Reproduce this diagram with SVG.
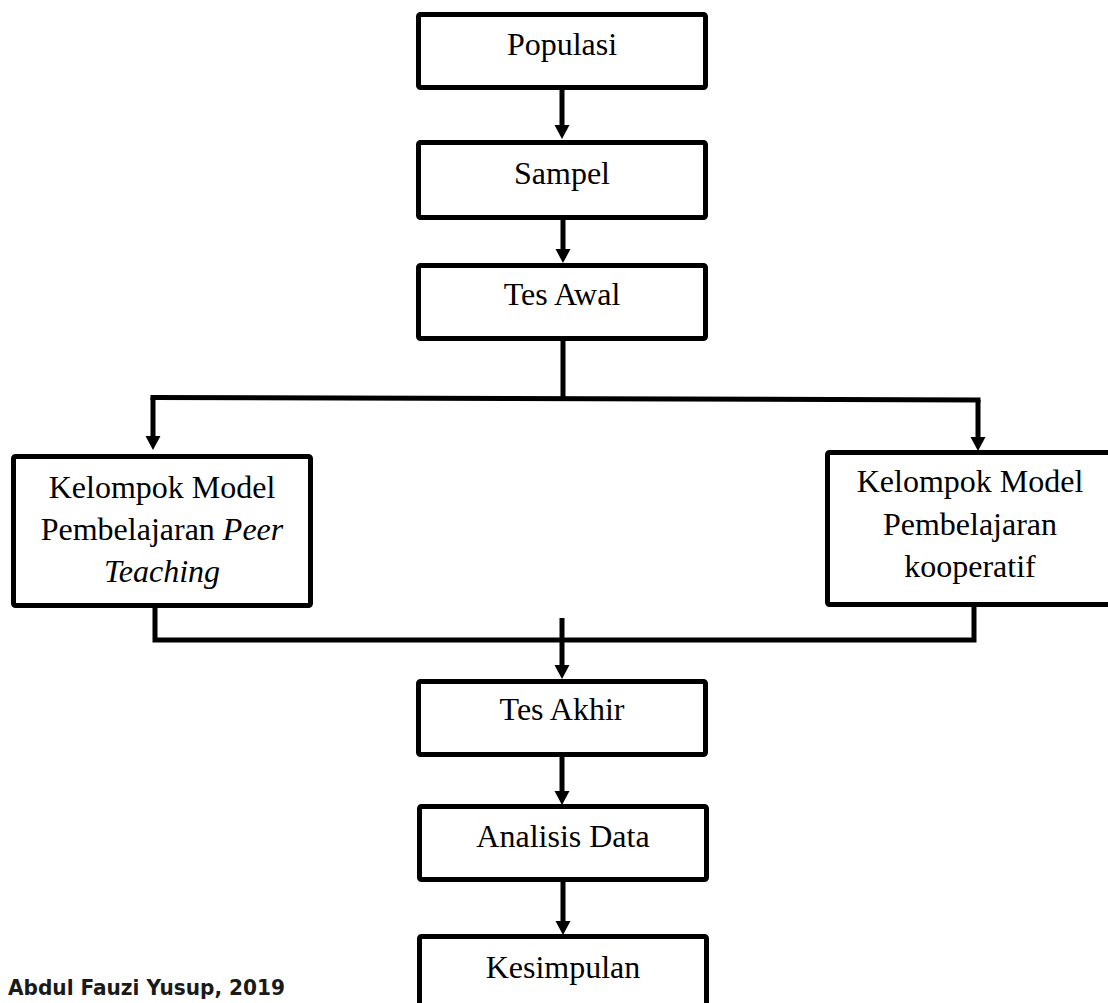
<svg xmlns="http://www.w3.org/2000/svg" width="1108" height="1003" viewBox="0 0 1108 1003">
<defs>
<marker id="arr" markerUnits="userSpaceOnUse" markerWidth="16" markerHeight="16" refX="4" refY="7.5" orient="auto">
<path d="M0,0 L14,7.5 L0,15 z" fill="#000"/>
</marker>
<style>
.box{fill:#fff;stroke:#000;stroke-width:5;}
.lbl{font-family:"Liberation Serif","Times New Roman",serif;font-size:32px;fill:#000;text-anchor:middle;}
.ln{fill:none;stroke:#000;stroke-width:5;}
.foot{font-family:"DejaVu Sans Condensed","DejaVu Sans",Verdana,sans-serif;font-stretch:condensed;font-weight:bold;font-size:21.5px;fill:#1a1a1a;}
</style>
</defs>
<rect width="1108" height="1003" fill="#fff"/>
<g id="connectors">
<path class="ln" d="M562,90 L562,129" marker-end="url(#arr)"/>
<path class="ln" d="M563,220 L563,253" marker-end="url(#arr)"/>
<path class="ln" d="M563,341 L563,398"/>
<path class="ln" d="M150.5,397.5 L980.5,400"/>
<path class="ln" d="M153,397.5 L153,440" marker-end="url(#arr)"/>
<path class="ln" d="M978,400 L978,441" marker-end="url(#arr)"/>
<path class="ln" d="M155,608 L155,640 L974,640 L974,605"/>
<path class="ln" d="M562,618 L562,669" marker-end="url(#arr)"/>
<path class="ln" d="M562,757 L562,795" marker-end="url(#arr)"/>
<path class="ln" d="M563,882 L563,925" marker-end="url(#arr)"/>
</g>
<g id="n-populasi"><rect class="box" x="418.5" y="14.5" width="287" height="73" rx="2"/><text class="lbl" x="562" y="55">Populasi</text></g>
<g id="n-sampel"><rect class="box" x="418.5" y="142.5" width="287" height="75" rx="2"/><text class="lbl" x="562" y="184">Sampel</text></g>
<g id="n-tesawal"><rect class="box" x="418.5" y="265.5" width="287" height="73" rx="2"/><text class="lbl" x="562" y="305">Tes Awal</text></g>
<g id="n-peer"><rect class="box" x="13.5" y="456.5" width="297" height="149" rx="2"/>
<text class="lbl" x="162" y="498">Kelompok Model</text>
<text class="lbl" x="162" y="540">Pembelajaran <tspan font-style="italic">Peer</tspan></text>
<text class="lbl" x="162" y="582" font-style="italic">Teaching</text></g>
<g id="n-kooperatif"><rect class="box" x="827.5" y="452.5" width="300" height="152" rx="2"/>
<text class="lbl" x="970" y="492">Kelompok Model</text>
<text class="lbl" x="970" y="535">Pembelajaran</text>
<text class="lbl" x="970" y="577">kooperatif</text></g>
<g id="n-tesakhir"><rect class="box" x="418.5" y="681.5" width="287" height="73" rx="2"/><text class="lbl" x="562" y="720">Tes Akhir</text></g>
<g id="n-analisis"><rect class="box" x="419.5" y="806.5" width="287" height="73" rx="2"/><text class="lbl" x="563" y="847">Analisis Data</text></g>
<g id="n-kesimpulan"><rect class="box" x="419.5" y="936.5" width="287" height="90" rx="2"/><text class="lbl" x="563" y="978">Kesimpulan</text></g>
<text class="foot" x="8" y="995" textLength="277" lengthAdjust="spacingAndGlyphs">Abdul Fauzi Yusup, 2019</text>
</svg>
